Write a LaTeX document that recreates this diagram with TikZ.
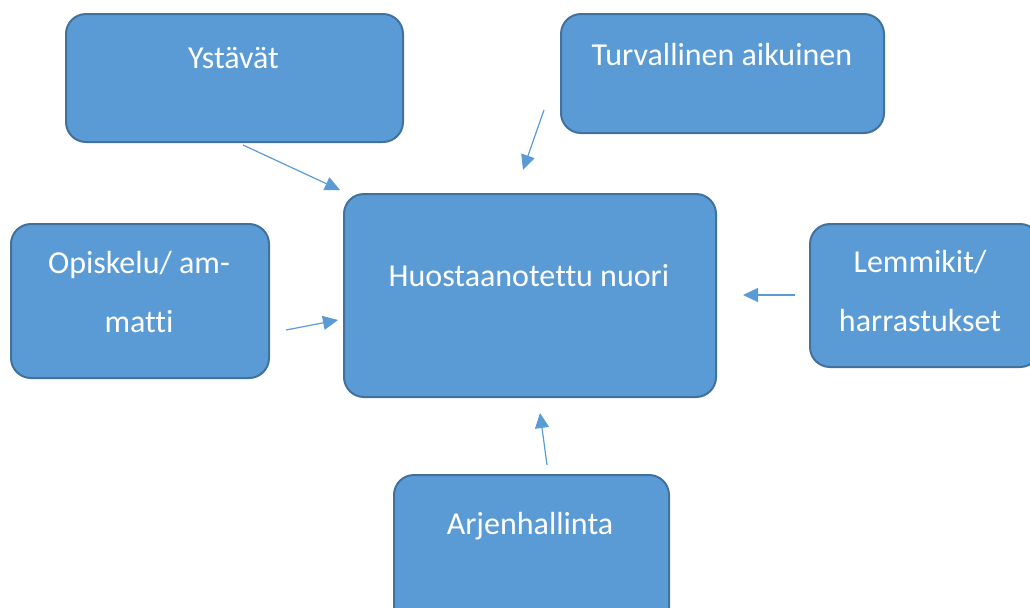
\documentclass[tikz,border=0pt]{standalone}
\usepackage{fontspec}
\setmainfont[Ligatures={NoCommon}]{Carlito}
\usetikzlibrary{arrows.meta}
\definecolor{boxfill}{HTML}{5B9BD5}
\definecolor{boxline}{HTML}{41719C}
\tikzset{
  box/.style={draw=boxline, line width=1pt, fill=boxfill, rounded corners=10pt,
    inner sep=0pt, anchor=north west},
  txt/.style={text=white, align=center, inner sep=0pt,
    font=\fontsize{16}{29.5}\selectfont},
  link/.style={draw=boxfill, line width=0.6pt, -{Triangle[length=7.5pt,width=7pt]}}
}
\begin{document}
\begin{tikzpicture}[x=0.5pt, y=-0.5pt]
    \useasboundingbox (0, 0) rectangle (1030, 607);
        % boxes
        \node[box, minimum width=168.5pt, minimum height=64pt] (ystavat) at (65, 13) {};
        \node[box, minimum width=161.5pt, minimum height=59.5pt] (turva) at (560, 13) {};
        \node[box, minimum width=186pt, minimum height=101.5pt] (nuori) at (343, 193) {};
        \node[box, minimum width=129pt, minimum height=77pt] (opiskelu) at (10, 223) {};
        \node[box, minimum width=115pt, minimum height=71.5pt] (lemmikit) at (809, 223) {};
        \node[box, minimum width=137.5pt, minimum height=80pt] (arki) at (393, 474) {};
        % texts
        \node[txt] (ystavat-t) at (233.5, 58) {Ystävät};
        \node[txt] (turva-t) at (722, 54) {Turvallinen aikuinen};
        \node[txt] (nuori-t) at (529, 276) {Huostaanotettu nuori};
        \node[txt] (opiskelu-t) at (139, 292) {Opiskelu/ am-\\matti};
        \node[txt] (lemmikit-t) at (920, 291) {Lemmikit/\\harrastukset};
        \node[txt] (arki-t) at (530, 526) {Arjenhallinta};
        % arrows
        \coordinate (a1) at (243, 145);  \coordinate (b1) at (340, 190);
        \coordinate (a2) at (544, 110);  \coordinate (b2) at (523, 170);
        \coordinate (a3) at (286, 330);  \coordinate (b3) at (338, 320);
        \coordinate (a4) at (795, 295);  \coordinate (b4) at (743, 295);
        \coordinate (a5) at (547, 465);  \coordinate (b5) at (540, 413);
        \foreach \i in {1,...,5}
            \draw[link] (a\i) -- (b\i);
    \end{tikzpicture}
\end{document}
